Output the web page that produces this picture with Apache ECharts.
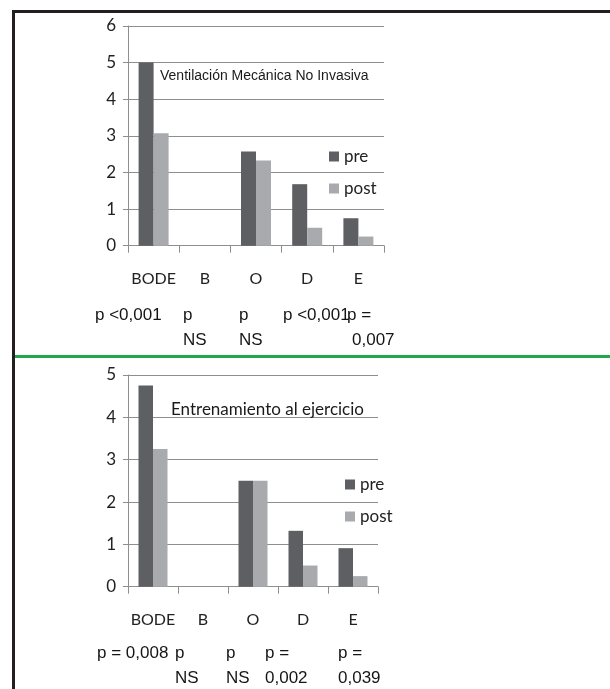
<!DOCTYPE html>
<html>
<head>
<meta charset="utf-8">
<script src="https://cdn.jsdelivr.net/npm/echarts@6/dist/echarts.min.js"></script>
<style>
html,body{margin:0;padding:0;background:#fff;}
#chart{width:610px;height:689px;}
</style>
</head>
<body>
<div id="chart"></div>
<script>
// ---- data ----
var categories = ['BODE', 'B', 'O', 'D', 'E'];
var seriesNames = ['pre', 'post'];

var titleTop = 'Ventilación Mecánica No Invasiva';
var preTop  = [5.0, 0, 2.57, 1.68, 0.75];
var postTop = [3.07, 0, 2.33, 0.49, 0.25];
var yTicksTop = [0, 1, 2, 3, 4, 5, 6];

var titleBottom = 'Entrenamiento al ejercicio';
var preBottom  = [4.75, 0, 2.5, 1.32, 0.91];
var postBottom = [3.25, 0, 2.5, 0.5, 0.25];
var yTicksBottom = [0, 1, 2, 3, 4, 5];

var pLabelsTop = [['p <0,001'], ['p', 'NS'], ['p', 'NS'], ['p <0,001'], ['p =', '0,007']];
var pLabelsBottom = [['p = 0,008'], ['p', 'NS'], ['p', 'NS'], ['p =', '0,002'], ['p =', '0,039']];

// ---- layout (positions only) ----
var pPosTop = [[95, 95], [183, 183], [239, 239], [283, 283], [347, 352]];
var pLineYTop = [315, 340];
var pPosBottom = [[97, 97], [175, 175], [226, 226], [265, 265], [338, 338]];
var pLineYBottom = [653, 678];

var COL_PRE = '#5d5f63';
var COL_POST = '#a8aaad';
var GRID_COL = '#8e8e8e';
var LABEL_FONT = 'Lato';
var P_FONT = '"Liberation Sans", Arial, sans-serif';

var chart = echarts.init(document.getElementById('chart'), null, {renderer: 'canvas'});

function yAxisDef(idx, ticks) {
  return {
    type: 'value', gridIndex: idx,
    min: ticks[0], max: ticks[ticks.length - 1], interval: 1,
    axisLine: {show: true, lineStyle: {color: GRID_COL, width: 1}},
    axisTick: {show: true, length: 5, lineStyle: {color: GRID_COL}},
    splitLine: {show: true, lineStyle: {color: GRID_COL, width: 1}},
    axisLabel: {fontFamily: LABEL_FONT, fontSize: 17, color: '#222', margin: 12}
  };
}
function xAxisDef(idx) {
  return {
    type: 'category', gridIndex: idx, data: categories,
    boundaryGap: true,
    axisLine: {show: true, lineStyle: {color: GRID_COL, width: 1}},
    axisTick: {show: true, length: 7, interval: 0, lineStyle: {color: GRID_COL}},
    axisLabel: {fontFamily: LABEL_FONT, fontSize: 16, color: '#222', margin: 25, interval: 0}
  };
}

var graphics = [];
function addPLabels(labels, pos, ys) {
  for (var i = 0; i < labels.length; i++) {
    for (var j = 0; j < labels[i].length; j++) {
      graphics.push({
        type: 'text', x: pos[i][j], y: ys[j],
        style: {text: labels[i][j], font: '17px ' + P_FONT, fill: '#151515',
                textVerticalAlign: 'middle', verticalAlign: 'middle'}
      });
    }
  }
}
addPLabels(pLabelsTop, pPosTop, pLineYTop);
addPLabels(pLabelsBottom, pPosBottom, pLineYBottom);

// frame lines
graphics.push({type: 'line', shape: {x1: 12, y1: 11.5, x2: 610, y2: 11.5}, style: {stroke: '#231f20', lineWidth: 3}});
graphics.push({type: 'line', shape: {x1: 13.5, y1: 10, x2: 13.5, y2: 689}, style: {stroke: '#231f20', lineWidth: 3}});
graphics.push({type: 'line', shape: {x1: 15, y1: 356.5, x2: 610, y2: 356.5}, style: {stroke: '#22a84a', lineWidth: 3}});

var option = {
  animation: false,
  backgroundColor: '#fff',
  title: [
    {text: titleTop, left: 160, top: 69, padding: 0,
     textStyle: {fontFamily: P_FONT, fontSize: 14, fontWeight: 'normal', color: '#1a1a1a'}},
    {text: titleBottom, left: 171, top: 401, padding: 0,
     textStyle: {fontFamily: LABEL_FONT, fontSize: 17, fontWeight: 'normal', color: '#1a1a1a'}}
  ],
  legend: [
    {orient: 'vertical', left: 329, top: 148, padding: 0, itemWidth: 10, itemHeight: 10,
     itemGap: 15, data: seriesNames, icon: 'rect',
     textStyle: {fontFamily: LABEL_FONT, fontSize: 17, color: '#222'}},
    {orient: 'vertical', left: 345, top: 476, padding: 0, itemWidth: 10, itemHeight: 10,
     itemGap: 15, data: seriesNames, icon: 'rect',
     textStyle: {fontFamily: LABEL_FONT, fontSize: 17, color: '#222'}}
  ],
  grid: [
    {left: 128, top: 26, width: 256, height: 219.7, containLabel: false},
    {left: 128, top: 375, width: 250, height: 211.7, containLabel: false}
  ],
  xAxis: [xAxisDef(0), xAxisDef(1)],
  yAxis: [yAxisDef(0, yTicksTop), yAxisDef(1, yTicksBottom)],
  series: [
    {name: 'pre', type: 'bar', xAxisIndex: 0, yAxisIndex: 0, data: preTop, barWidth: 15, barGap: 0, itemStyle: {color: COL_PRE}},
    {name: 'post', type: 'bar', xAxisIndex: 0, yAxisIndex: 0, data: postTop, barWidth: 15, barGap: 0, itemStyle: {color: COL_POST}},
    {name: 'pre', type: 'bar', xAxisIndex: 1, yAxisIndex: 1, data: preBottom, barWidth: 14.5, barGap: 0, itemStyle: {color: COL_PRE}},
    {name: 'post', type: 'bar', xAxisIndex: 1, yAxisIndex: 1, data: postBottom, barWidth: 14.5, barGap: 0, itemStyle: {color: COL_POST}}
  ],
  graphic: graphics
};
chart.setOption(option);
</script>
</body>
</html>
